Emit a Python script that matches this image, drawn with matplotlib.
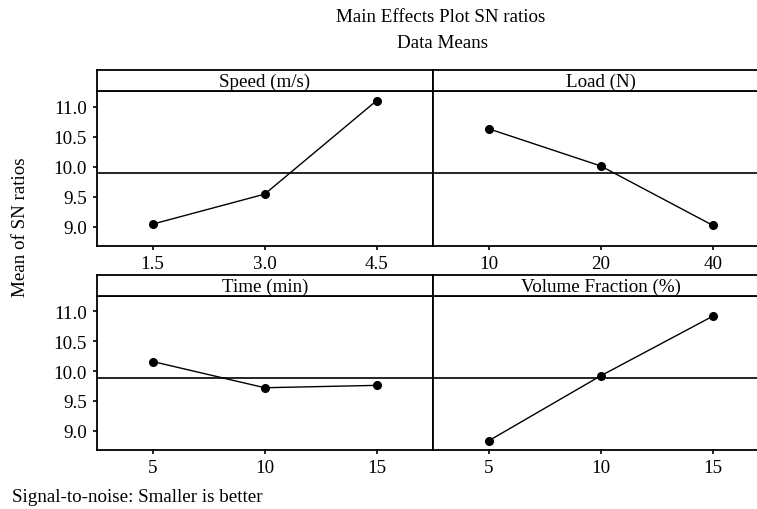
"""Main effects plot for SN ratios (Minitab style)."""
import numpy as np
import matplotlib
matplotlib.use('Agg')
import matplotlib.pyplot as plt

FS = 13.7
plt.rcParams['font.family'] = ['Liberation Serif', 'DejaVu Serif']
plt.rcParams['font.size'] = FS

# data
speed_levels = ['1.5', '3.0', '4.5']
speed_sn = [9.04, 9.54, 11.10]
load_levels = ['10', '20', '40']
load_sn = [10.63, 10.01, 9.02]
time_levels = ['5', '10', '15']
time_sn = [10.16, 9.72, 9.76]
vf_levels = ['5', '10', '15']
vf_sn = [8.83, 9.92, 10.92]

panels = [
    ('Speed (m/s)', speed_levels, speed_sn),
    ('Load (N)', load_levels, load_sn),
    ('Time (min)', time_levels, time_sn),
    ('Volume Fraction (%)', vf_levels, vf_sn),
]
grand_mean = np.mean(speed_sn + load_sn + time_sn + vf_sn)
y_ticks = [9.0, 9.5, 10.0, 10.5, 11.0]

W, H = 757, 510
fig = plt.figure(figsize=(W / 100, H / 100), dpi=100)

# pixel boxes: (left, right), (header top, plot top, plot bottom)
cols = [(96.7, 432.7), (432.7, 768.7)]
rows = [(70.7, 92.0, 246.7), (275.7, 297.0, 450.7)]

for i, (name, levels, vals) in enumerate(panels):
    r, c = divmod(i, 2)
    x0, x1 = cols[c]
    ht, pt, pb = rows[r]
    ax = fig.add_axes([x0 / W, 1 - pb / H, (x1 - x0) / W, (pb - pt) / H])
    hx = fig.add_axes([x0 / W, 1 - pt / H, (x1 - x0) / W, (pt - ht) / H])

    xs = np.arange(len(levels))
    ax.plot(xs, vals, color='black', lw=1.0, marker='o', ms=5.5, zorder=3)
    ax.axhline(grand_mean, color='black', lw=1.2)
    ax.set_xlim(-0.5, 2.5)
    ax.set_ylim(8.68, 11.26)
    ax.set_xticks(xs)
    ax.set_xticklabels(levels)
    ax.set_yticks(y_ticks)
    ax.set_yticklabels([f'{v:.1f}' for v in y_ticks])
    ax.tick_params(direction='out', length=3, width=1.2, pad=4, labelsize=FS)
    if c == 1:
        ax.tick_params(axis='y', left=False, labelleft=False)
    for s in ax.spines.values():
        s.set_linewidth(1.3)

    hx.set_xticks([])
    hx.set_yticks([])
    for s in hx.spines.values():
        s.set_linewidth(1.3)
    hx.text(0.5, 0.45, name, ha='center', va='center', transform=hx.transAxes,
            fontsize=FS)

fig.text(441 / W, 1 - 17 / H, 'Main Effects Plot SN ratios', ha='center',
         va='center', fontsize=FS)
fig.text(443 / W, 1 - 44 / H, 'Data Means', ha='center', va='center',
         fontsize=FS)
fig.text(21 / W, 1 - 227 / H, 'Mean of SN ratios', rotation=90, ha='center',
         va='center', fontsize=FS)
fig.text(12 / W, 1 - 498 / H, 'Signal-to-noise: Smaller is better', ha='left',
         va='center', fontsize=FS)

fig.savefig('out.png', dpi=100)
